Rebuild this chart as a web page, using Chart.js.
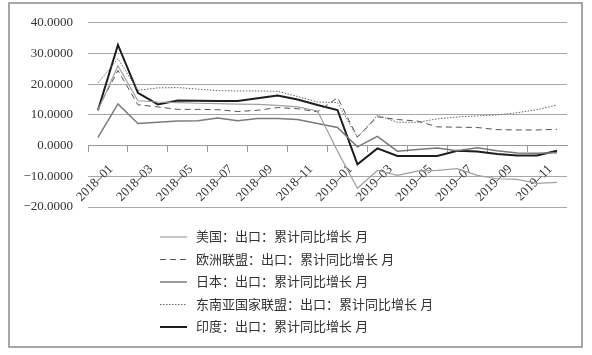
<!DOCTYPE html>
<html>
<head>
<meta charset="utf-8">
<script src="https://cdn.jsdelivr.net/npm/chart.js@4/dist/chart.umd.min.js"></script>
<style>
html,body{margin:0;padding:0;background:#fff;}
#wrap{position:relative;width:592px;height:355px;}
</style>
</head>
<body>
<div id="wrap"><canvas id="c" width="592" height="355"></canvas></div>
<script>
const categories = ["2018–01","2018–02","2018–03","2018–04","2018–05","2018–06","2018–07","2018–08","2018–09","2018–10","2018–11","2018–12",
                    "2019–01","2019–02","2019–03","2019–04","2019–05","2019–06","2019–07","2019–08","2019–09","2019–10","2019–11","2019–12"];
const seriesNames = ["美国：出口：累计同比增长 月","欧洲联盟：出口：累计同比增长 月","日本：出口：累计同比增长 月","东南亚国家联盟：出口：累计同比增长 月","印度：出口：累计同比增长 月"];
const usa   = [11.5, 26.0, 14.6, 14.2, 14.0, 13.8, 13.7, 13.5, 13.4, 13.1, 12.6, 11.3, -1.8, -13.9, -8.1, -9.7, -8.3, -8.1, -7.5, -9.7, -10.8, -11.0, -12.3, -12.0];
const eu    = [12.0, 24.5, 13.3, 12.6, 11.8, 11.8, 11.7, 11.1, 11.5, 12.4, 12.0, 11.0, 15.6, 2.8, 9.4, 8.5, 8.0, 6.1, 6.0, 5.9, 5.2, 5.1, 5.1, 5.3];
const japan = [2.7, 13.6, 7.2, 7.6, 8.0, 8.1, 9.0, 8.1, 8.8, 8.8, 8.5, 7.2, 5.9, -0.4, 3.0, -1.8, -1.3, -0.8, -1.7, -0.7, -1.7, -2.4, -2.5, -2.3];
const asean = [20.4, 28.3, 18.0, 18.8, 18.9, 18.4, 17.9, 17.8, 17.8, 17.7, 16.0, 14.2, 14.0, 2.7, 9.9, 7.6, 7.6, 8.7, 9.3, 9.7, 10.0, 10.7, 11.7, 13.2];
const india = [11.5, 32.8, 17.2, 13.4, 14.7, 14.6, 14.5, 14.5, 15.4, 16.3, 15.0, 13.2, 11.6, -6.1, -0.9, -3.4, -3.4, -3.4, -1.7, -1.9, -2.7, -3.2, -3.2, -1.7];
const yTicks = [-20, -10, 0, 10, 20, 30, 40];

const FONT = "'Liberation Serif', 'Noto Sans CJK SC', serif";
Chart.defaults.font.family = FONT;
Chart.defaults.color = '#333';

const framePlugin = {
  id: 'frame',
  beforeDraw(chart) {
    const ctx = chart.ctx;
    ctx.save();
    ctx.fillStyle = '#fff';
    ctx.fillRect(0, 0, chart.width, chart.height);
    ctx.strokeStyle = '#8a8a8a';
    ctx.lineWidth = 1.5;
    ctx.strokeRect(9, 3, 573, 344);
    ctx.restore();
  }
};

const legendPlugin = {
  id: 'vlegend',
  afterDraw(chart) {
    const ctx = chart.ctx;
    ctx.save();
    chart.data.datasets.forEach((ds, i) => {
      const y = 237 + i * 22.5;
      ctx.beginPath();
      ctx.strokeStyle = ds.borderColor;
      ctx.lineWidth = ds.borderWidth;
      ctx.setLineDash(ds.borderDash || []);
      ctx.moveTo(160, y);
      ctx.lineTo(187, y);
      ctx.stroke();
      ctx.setLineDash([]);
      ctx.fillStyle = '#333';
      ctx.font = "13px " + FONT;
      ctx.textBaseline = 'middle';
      ctx.textAlign = 'left';
      ctx.fillText(ds.label, 196, y + 1);
    });
    ctx.restore();
  }
};

const styles = [
  {color: '#a0a0a0', width: 1.2, dash: []},
  {color: '#555555', width: 1, dash: [6, 4]},
  {color: '#7a7a7a', width: 1.5, dash: []},
  {color: '#666666', width: 1, dash: [1.5, 1.5]},
  {color: '#1e1e1e', width: 2, dash: []}
];
const values = [usa, eu, japan, asean, india];

new Chart(document.getElementById('c'), {
  type: 'line',
  data: {
    labels: categories,
    datasets: values.map((v, i) => ({
      label: seriesNames[i],
      data: v,
      borderColor: styles[i].color,
      borderWidth: styles[i].width,
      borderDash: styles[i].dash,
      pointRadius: 0,
      tension: 0,
      fill: false
    }))
  },
  options: {
    responsive: false,
    animation: false,
    layout: {padding: {top: 21, right: 25, bottom: 148, left: 0}},
    plugins: {legend: {display: false}, tooltip: {enabled: false}},
    scales: {
      y: {
        min: -20, max: 40,
        afterBuildTicks(scale) { scale.ticks = yTicks.map(v => ({value: v})); },
        afterFit(scale) { scale.width = 88; },
        grid: {color: '#a8a8a8', lineWidth: 1, drawTicks: false},
        border: {display: false},
        ticks: {
          padding: 15,
          font: {size: 13, family: FONT},
          color: '#333',
          callback: v => (v < 0 ? '−' : '') + Math.abs(v).toFixed(4)
        }
      },
      x: {
        type: 'category',
        position: {y: 0},
        offset: true,
        grid: {
          offset: true,
          drawOnChartArea: false,
          drawTicks: true,
          tickLength: 6,
          color: ctx => (ctx.index % 2 === 0 ? '#999' : 'rgba(0,0,0,0)')
        },
        border: {display: true, color: '#999', width: 1},
        ticks: {
          autoSkip: false,
          minRotation: 45,
          maxRotation: 45,
          padding: 10,
          labelOffset: 13,
          font: {size: 13, family: FONT},
          color: '#333',
          callback: (v, i) => (i % 2 === 0 ? categories[i] : '')
        }
      }
    }
  },
  plugins: [framePlugin, legendPlugin]
});
</script>
</body>
</html>
